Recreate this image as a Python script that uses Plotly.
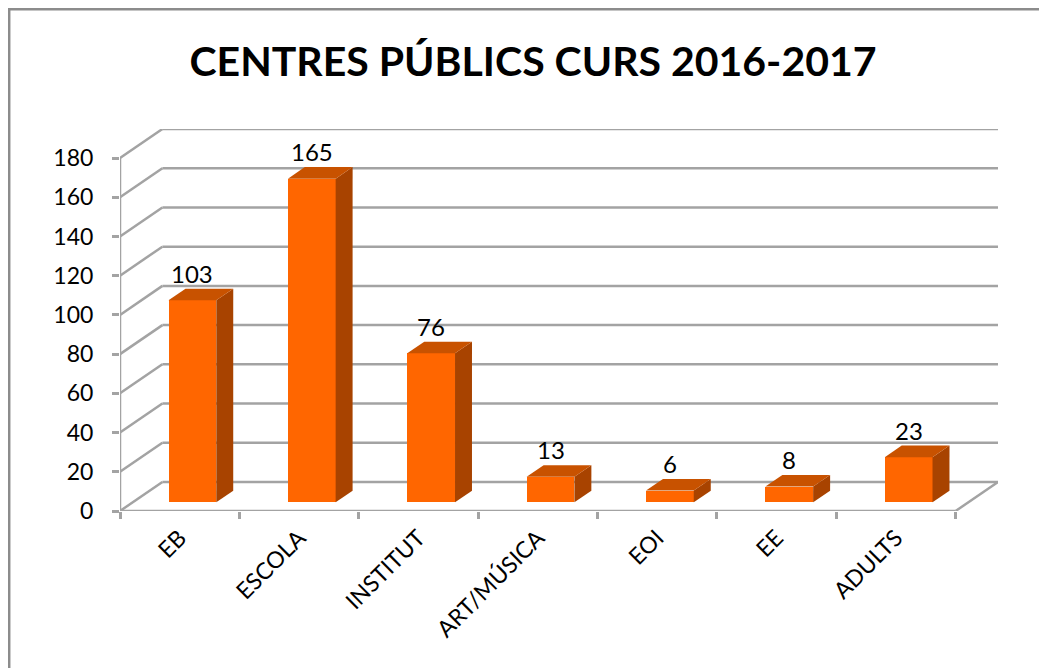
import plotly.graph_objects as go

categories = ["EB", "ESCOLA", "INSTITUT", "ART/MÚSICA", "EOI", "EE", "ADULTS"]
values = [103, 165, 76, 13, 6, 8, 23]
y_ticks = [0, 20, 40, 60, 80, 100, 120, 140, 160, 180]
title_text = "CENTRES PÚBLICS CURS 2016-2017"

# 3D look parameters (depth offsets in axis units)
DX = 0.355          # depth offset along x (category units)
DY = 14.8           # depth offset along y (value units)
BAR_W = 0.4         # bar width (category units)
D0, D1 = 0.3, 0.7   # bar front/back depth fractions

FRONT = "#FF6600"
SIDE = "#A84300"
TOP = "#C85200"
GRID = "#a3a3a3"
FONT = "Lato"

# page body has an 8px margin, so the figure is drawn 8px smaller/shifted
OFF = 8
W, H = 1047 - OFF, 668 - OFF
ML, MT = 120 - OFF, 129 - OFF
MR = W - (998 - OFF)
MB = H - (511 - OFF)
PW, PH = W - ML - MR, H - MT - MB
n = len(categories)
XMAX = n + DX
YMAX = y_ticks[-1] + DY

fig = go.Figure()

# front faces via bar trace
fx = [i + 0.5 + D0 * DX for i in range(n)]
base = D0 * DY
fig.add_trace(go.Bar(
    x=fx, y=values, base=[base] * n, width=BAR_W,
    marker=dict(color=FRONT, line=dict(width=0)),
    hoverinfo="skip", showlegend=False,
))

ddx = (D1 - D0) * DX
ddy = (D1 - D0) * DY
for xc, v in zip(fx, values):
    xl, xr = xc - BAR_W / 2, xc + BAR_W / 2
    top = base + v
    # side face
    fig.add_trace(go.Scatter(
        x=[xr, xr + ddx, xr + ddx, xr, xr],
        y=[base, base + ddy, top + ddy, top, base],
        fill="toself", fillcolor=SIDE, mode="lines",
        line=dict(width=0, color=SIDE), hoverinfo="skip", showlegend=False,
    ))
    # top face
    fig.add_trace(go.Scatter(
        x=[xl, xr, xr + ddx, xl + ddx, xl],
        y=[top, top, top + ddy, top + ddy, top],
        fill="toself", fillcolor=TOP, mode="lines",
        line=dict(width=0, color=TOP), hoverinfo="skip", showlegend=False,
    ))

shapes = []
# back wall gridlines + left wall diagonals
for t in y_ticks:
    shapes.append(dict(type="line", xref="x", yref="y", x0=DX, y0=t + DY, x1=XMAX, y1=t + DY,
                       line=dict(color=GRID, width=2.5), layer="below"))
    shapes.append(dict(type="line", xref="x", yref="y", x0=0, y0=t, x1=DX, y1=t + DY,
                       line=dict(color=GRID, width=2.5), layer="below"))
# front vertical axis line
shapes.append(dict(type="line", xref="x", yref="y", x0=0, y0=0, x1=0, y1=y_ticks[-1],
                   line=dict(color=GRID, width=2.5), layer="below"))
# front floor edge
shapes.append(dict(type="line", xref="x", yref="y", x0=0, y0=0, x1=n, y1=0,
                   line=dict(color=GRID, width=2.5), layer="below"))
# right floor edge
shapes.append(dict(type="line", xref="x", yref="y", x0=n, y0=0, x1=XMAX, y1=DY,
                   line=dict(color=GRID, width=2.5), layer="below"))
# chart border
def px2paper_x(px):
    return (px - ML) / PW
def px2paper_y(py):
    return (H - MB - py) / PH
shapes.append(dict(type="rect", xref="paper", yref="paper",
                   x0=px2paper_x(1.2), y0=px2paper_y(H + 20), x1=px2paper_x(W + 20), y1=px2paper_y(1.2),
                   line=dict(color="#8c8c8c", width=2.5), layer="below"))

annotations = []
for xc, v in zip(fx, values):
    annotations.append(dict(x=xc, y=base + v, xref="x", yref="y", text=str(v),
                            showarrow=False, yanchor="middle", yshift=27,
                            font=dict(family=FONT, size=24, color="black")))

fig.update_layout(
    width=W, height=H, autosize=False,
    margin=dict(l=ML, r=MR, t=MT, b=MB, pad=0),
    paper_bgcolor="white", plot_bgcolor="rgba(0,0,0,0)",
    title=dict(text="<b>" + title_text + "</b>", x=(533 - OFF) / W, xanchor="center",
               y=1 - (62 - OFF) / H, yanchor="middle", yref="container",
               font=dict(family=FONT, size=41, color="black")),
    shapes=shapes, annotations=annotations,
    showlegend=False, bargap=0,
    xaxis=dict(range=[0, XMAX], tickmode="array", tickvals=[i + 0.5 for i in range(n)],
               ticktext=categories, tickangle=-45, showgrid=False, zeroline=False,
               showline=False, ticks="", ticklabelstandoff=8,
               tickfont=dict(family=FONT, size=23, color="black"), fixedrange=True),
    xaxis2=dict(range=[0, XMAX], overlaying="x", side="bottom", tickmode="array",
                tickvals=list(range(n + 1)), showticklabels=False, ticks="outside",
                ticklen=7, tickwidth=2.5, tickcolor=GRID, showgrid=False, zeroline=False,
                showline=False, fixedrange=True),
    yaxis=dict(range=[0, YMAX], tickmode="array", tickvals=y_ticks, ticks="outside",
               ticklen=7, tickwidth=2.5, tickcolor=GRID, showgrid=False, zeroline=False,
               showline=False, ticklabelstandoff=14,
               tickfont=dict(family=FONT, size=23, color="black"), fixedrange=True),
)
# invisible trace to activate xaxis2
fig.add_trace(go.Scatter(x=[0], y=[0], xaxis="x2", mode="markers",
                         marker=dict(opacity=0), hoverinfo="skip", showlegend=False))

fig.write_html("out.html")
